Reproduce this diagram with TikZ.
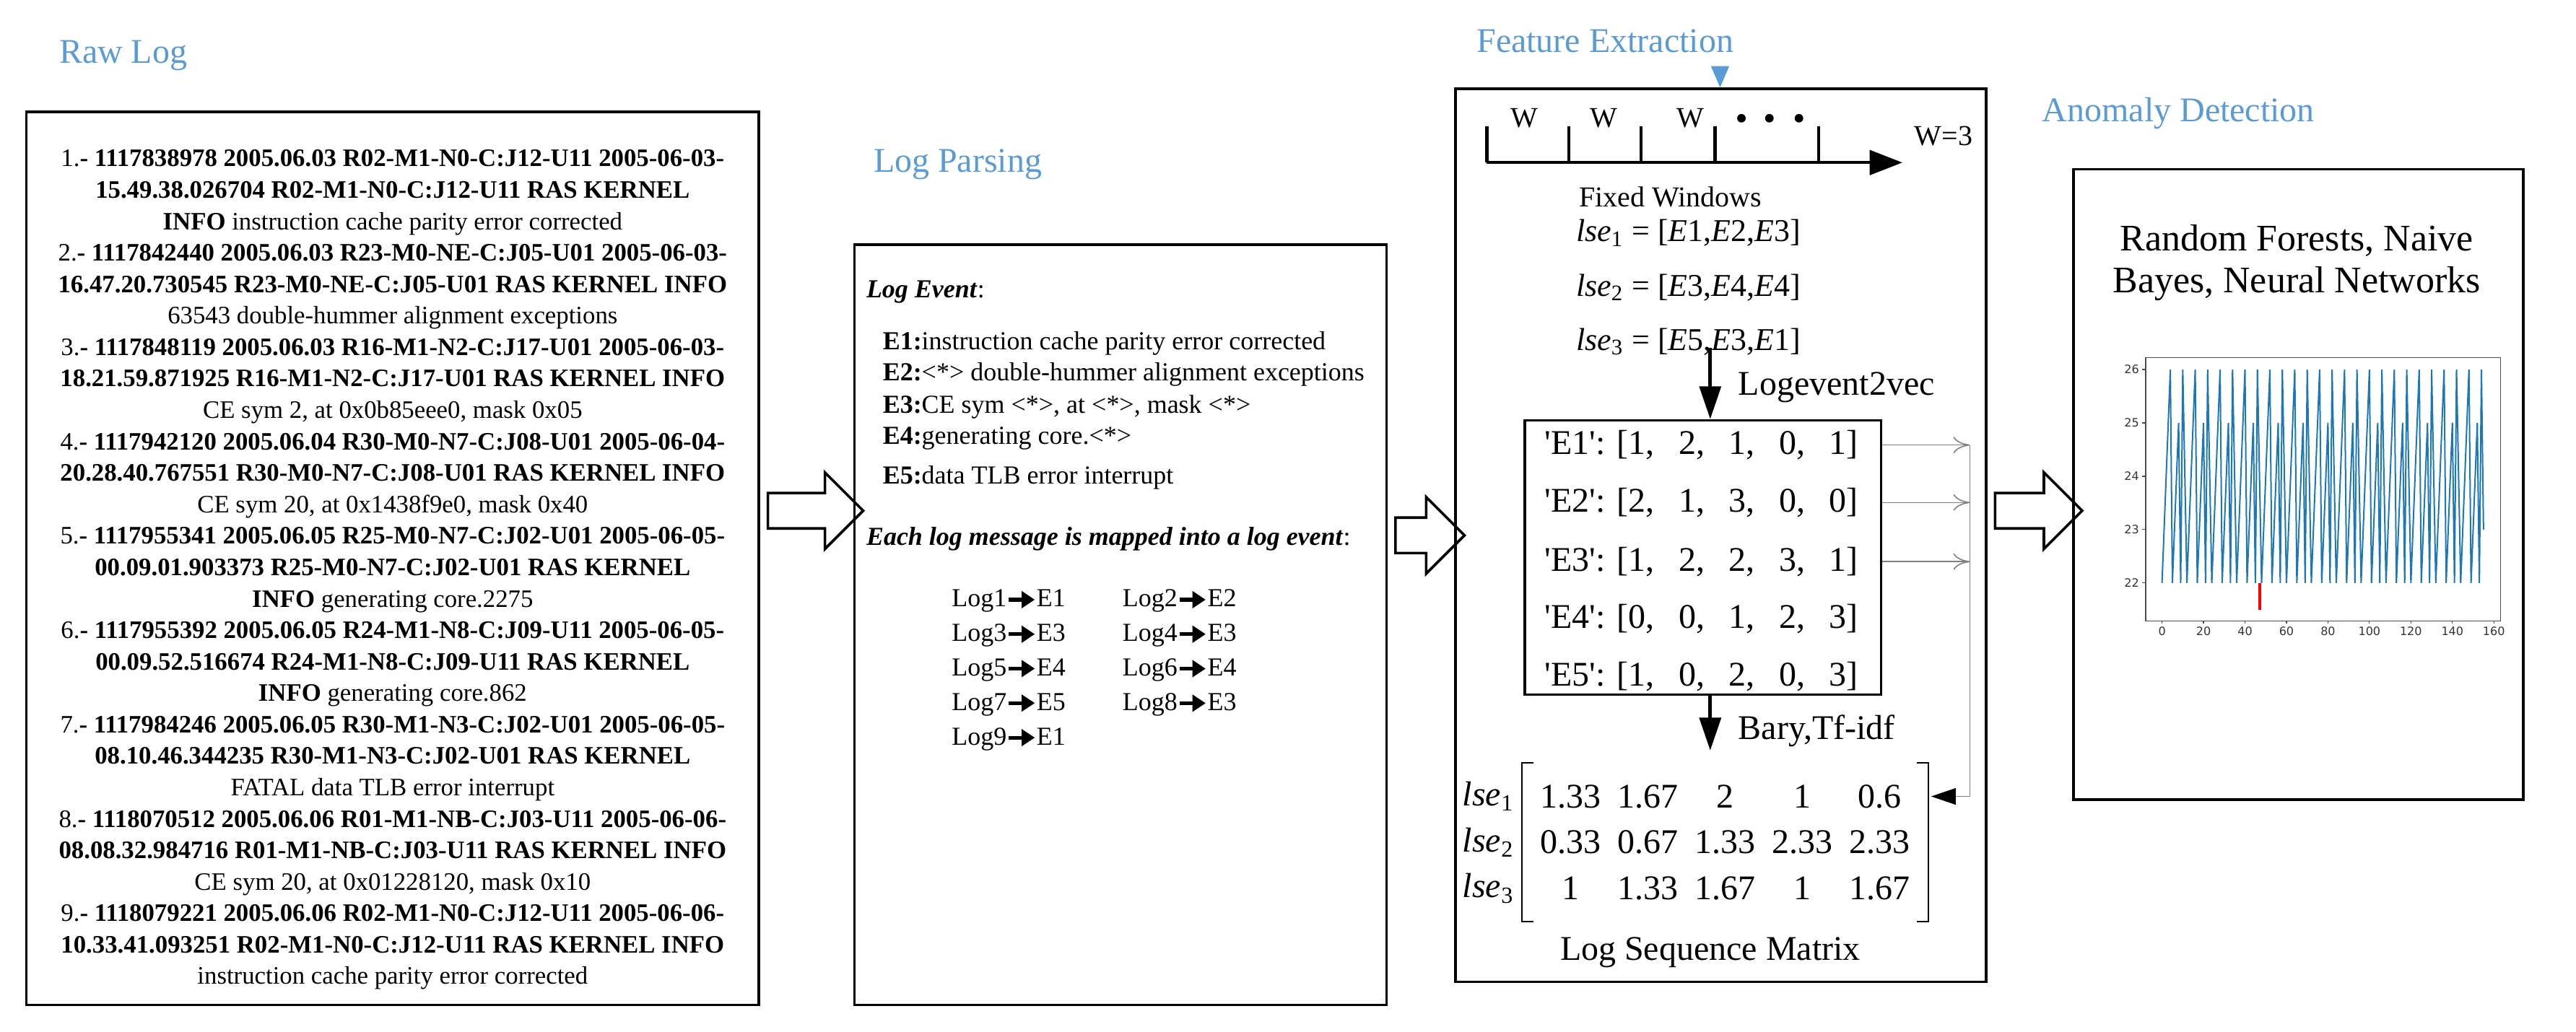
\documentclass[tikz,border=0pt]{standalone}
\usepackage{fontspec}
\setmainfont{Liberation Serif}
\setsansfont{DejaVu Sans}
\usetikzlibrary{arrows.meta,shapes.arrows,matrix}
\definecolor{stageblue}{RGB}{91,155,213}
\definecolor{mplblue}{RGB}{31,119,180}
\tikzset{
  box/.style={draw, line width=0.9pt, inner sep=0pt},
  stage/.style={text=stageblue, font=\fontsize{12}{14}\selectfont},
  blockarrow/.style={single arrow, draw, line width=0.9pt, inner xsep=0pt, inner ysep=0.2cm,
    minimum width=0.9cm, single arrow head extend=0.25cm},
  thickarrow/.style={line width=1.2pt, -{Triangle[length=0.4cm,width=0.26cm]}},
  thinarrow/.style={gray, line width=0.4pt, -{To[length=0.2cm,width=0.2cm]}},
  tick/.style={font=\sffamily\fontsize{4}{4}\selectfont, inner sep=1pt, text=black!80},
}
\newcommand{\logentry}[4]{#1\textbf{- #2}\\ \textbf{#3}\\ #4\\}
\newcommand{\maparrow}{\tikz[baseline=-0.6ex]\draw[line width=1.3pt, -{Triangle[length=1.6mm,width=2mm]}] (0,0) -- (3.2mm,0);}
\newcommand{\evname}[1]{\textquotesingle E#1\textquotesingle}

\begin{document}
\begin{tikzpicture}[x=0.02cm, y=-0.02cm]
    \useasboundingbox (0,0) rectangle (1568,628);

    % Stage titles
    \node[stage] (tRaw) at (75,34) {Raw Log};
    \node[stage] (tParse) at (583,100) {Log Parsing};
    \node[stage] (tFeat) at (977,25) {Feature Extraction};
    \node[stage] (tAnom) at (1326,69) {Anomaly Detection};

    % Boxes
    \node[box, minimum width=8.92cm, minimum height=10.88cm] (raw) at (239,340) {};
    \node[box, minimum width=6.48cm, minimum height=9.26cm] (parse) at (682,380.5) {};
    \node[box, minimum width=6.46cm, minimum height=10.88cm] (feat) at (1047.5,326) {};
    \node[box, minimum width=5.48cm, minimum height=7.68cm] (anom) at (1399,295) {};

    % Hollow arrows between stages
    \node[blockarrow, minimum height=1.16cm] (a1) at (491,311) {};
    \node[blockarrow, minimum height=0.84cm] (a2) at (865,326) {};
    \node[blockarrow, minimum height=1.06cm] (a3) at (1235.5,311) {};

    % Raw log messages
    \node[font=\fontsize{8.7}{10.9}\selectfont, align=center] (rawtext) at (239,347) {
        \logentry{1.}{1117838978 2005.06.03 R02-M1-N0-C:J12-U11 2005-06-03-}{15.49.38.026704 R02-M1-N0-C:J12-U11 RAS KERNEL}{\textbf{INFO} instruction cache parity error corrected}
        \logentry{2.}{1117842440 2005.06.03 R23-M0-NE-C:J05-U01 2005-06-03-}{16.47.20.730545 R23-M0-NE-C:J05-U01 RAS KERNEL INFO}{63543 double-hummer alignment exceptions}
        \logentry{3.}{1117848119 2005.06.03 R16-M1-N2-C:J17-U01 2005-06-03-}{18.21.59.871925 R16-M1-N2-C:J17-U01 RAS KERNEL INFO}{CE sym 2, at 0x0b85eee0, mask 0x05}
        \logentry{4.}{1117942120 2005.06.04 R30-M0-N7-C:J08-U01 2005-06-04-}{20.28.40.767551 R30-M0-N7-C:J08-U01 RAS KERNEL INFO}{CE sym 20, at 0x1438f9e0, mask 0x40}
        \logentry{5.}{1117955341 2005.06.05 R25-M0-N7-C:J02-U01 2005-06-05-}{00.09.01.903373 R25-M0-N7-C:J02-U01 RAS KERNEL}{\textbf{INFO} generating core.2275}
        \logentry{6.}{1117955392 2005.06.05 R24-M1-N8-C:J09-U11 2005-06-05-}{00.09.52.516674 R24-M1-N8-C:J09-U11 RAS KERNEL}{\textbf{INFO} generating core.862}
        \logentry{7.}{1117984246 2005.06.05 R30-M1-N3-C:J02-U01 2005-06-05-}{08.10.46.344235 R30-M1-N3-C:J02-U01 RAS KERNEL}{FATAL data TLB error interrupt}
        \logentry{8.}{1118070512 2005.06.06 R01-M1-NB-C:J03-U11 2005-06-06-}{08.08.32.984716 R01-M1-NB-C:J03-U11 RAS KERNEL INFO}{CE sym 20, at 0x01228120, mask 0x10}
        9.\textbf{- 1118079221 2005.06.06 R02-M1-N0-C:J12-U11 2005-06-06-}\\
        \textbf{10.33.41.093251 R02-M1-N0-C:J12-U11 RAS KERNEL INFO}\\
        instruction cache parity error corrected};

    % Log parsing
    \begin{scope}[every node/.style={anchor=west, inner sep=0pt, font=\fontsize{9}{11}\selectfont}]
        \node (evhead) at (527,178) {\textbf{\textit{Log Event}}:};
        \node (ev1) at (537,209) {\textbf{E1:}instruction cache parity error corrected};
        \node (ev2) at (537,228) {\textbf{E2:}\textless*\textgreater{} double-hummer alignment exceptions};
        \node (ev3) at (537,248) {\textbf{E3:}CE sym \textless*\textgreater, at \textless*\textgreater, mask \textless*\textgreater};
        \node (ev4) at (537,267) {\textbf{E4:}generating core.\textless*\textgreater};
        \node (ev5) at (537,291) {\textbf{E5:}data TLB error interrupt};
        \node (maphead) at (527,328) {\textbf{\textit{Each log message is mapped into a log event}}:};
        \foreach \l/\e/\x/\y in {1/1/579/366, 2/2/683/366, 3/3/579/387, 4/3/683/387,
                                 5/4/579/408, 6/4/683/408, 7/5/579/429, 8/3/683/429, 9/1/579/450}
            \node (map\l) at (\x,\y) {Log\l\maparrow E\e};
    \end{scope}

    % Feature extraction: fixed windows
    \coordinate (fehead) at (1047,41);
    \draw[stageblue, -{Triangle[length=0.26cm,width=0.22cm]}] (fehead) -- (fehead |- feat.north);
    \draw[line width=1.1pt, -{Triangle[length=0.4cm,width=0.3cm]}] (905,99) -- (1158,99);
    \foreach \x in {905,955,999,1044,1107}
        \draw[line width=1.1pt] (\x,99) -- (\x,77);
    \foreach \x in {928,976,1029}
        \node[font=\fontsize{10}{10}\selectfont] at (\x,72) {W};
    \foreach \x in {1060,1077,1095}
        \fill (\x,72) circle (2.6);
    \node[font=\fontsize{10}{10}\selectfont] (wsize) at (1183,83) {W=3};
    \node[anchor=west, inner sep=0pt, font=\fontsize{10}{10}\selectfont] (fixed) at (961,120) {Fixed Windows};
    \begin{scope}[every node/.style={anchor=west, inner sep=0pt, font=\fontsize{11}{11}\selectfont}]
        \node (lse1) at (959,142) {\textit{lse}\textsubscript{1} = [\textit{E}1,\textit{E}2,\textit{E}3]};
        \node (lse2) at (959,175) {\textit{lse}\textsubscript{2} = [\textit{E}3,\textit{E}4,\textit{E}4]};
        \node (lse3) at (959,208) {\textit{lse}\textsubscript{3} = [\textit{E}5,\textit{E}3,\textit{E}1]};
    \end{scope}

    % Logevent2vec
    \node[box, minimum width=4.34cm, minimum height=3.34cm] (vec) at (1036.5,339.5) {};
    \coordinate (down1) at (1041,212);
    \draw[thickarrow] (down1) -- (down1 |- vec.north);
    \node[anchor=west, font=\fontsize{12}{12}\selectfont] (l2v) at (1052,236) {Logevent2vec};
    \begin{scope}[every node/.style={anchor=west, inner sep=0pt, font=\fontsize{12}{12}\selectfont}]
        \node (e1) at (940,271) {\evname{1}: [1,\hspace{0.7em}2,\hspace{0.7em}1,\hspace{0.7em}0,\hspace{0.7em}1]};
        \node (e2) at (940,306) {\evname{2}: [2,\hspace{0.7em}1,\hspace{0.7em}3,\hspace{0.7em}0,\hspace{0.7em}0]};
        \node (e3) at (940,342) {\evname{3}: [1,\hspace{0.7em}2,\hspace{0.7em}2,\hspace{0.7em}3,\hspace{0.7em}1]};
        \node (e4) at (940,377) {\evname{4}: [0,\hspace{0.7em}0,\hspace{0.7em}1,\hspace{0.7em}2,\hspace{0.7em}3]};
        \node (e5) at (940,412) {\evname{5}: [1,\hspace{0.7em}0,\hspace{0.7em}2,\hspace{0.7em}0,\hspace{0.7em}3]};
    \end{scope}

    % Log sequence matrix
    \coordinate (down2) at (1041,457);
    \draw[thickarrow] (vec.south -| down1) -- (down2);
    \node[anchor=west, font=\fontsize{12}{12}\selectfont] (bary) at (1052,445) {Bary,Tf-idf};
    \matrix (lsm) [matrix of nodes,
        nodes={minimum width=0.94cm, minimum height=0.56cm, inner sep=0pt, font=\fontsize{12}{12}\selectfont}]
        at (1050,513) {
        1.33 & 1.67 & 2    & 1    & 0.6  \\
        0.33 & 0.67 & 1.33 & 2.33 & 2.33 \\
        1    & 1.33 & 1.67 & 1    & 1.67 \\
    };
    \draw[line width=0.5pt] ([xshift=4]lsm.north west) -- (lsm.north west) -- (lsm.south west) -- ([xshift=4]lsm.south west);
    \draw[line width=0.5pt] ([xshift=-4]lsm.north east) -- (lsm.north east) -- (lsm.south east) -- ([xshift=-4]lsm.south east);
    \foreach \i in {1,2,3}
        \node[anchor=east, inner sep=0pt, font=\fontsize{12}{12}\selectfont] (row\i) at (922,0 |- lsm-\i-1) {\textit{lse}\textsubscript{\i}};
    \node[font=\fontsize{12}{12}\selectfont] (lsmname) at (1041,580) {Log Sequence Matrix};

    % Side connection to the matrix
    \coordinate (bus) at (1199,0 |- lsm-1-5);
    \foreach \r in {e1,e2,e3}
        \draw[thinarrow] (vec.east |- \r) -- (bus |- \r);
    \draw[gray, line width=0.4pt] (bus |- e1) -- (bus);
    \draw[gray, line width=0.4pt, -{Triangle[length=0.3cm,width=0.2cm,color=black]}] (bus) -- ([xshift=1]lsm.east |- bus);

    % Anomaly detection
    \node[align=center, font=\fontsize{13}{14.5}\selectfont] (models) at (1398,160) {Random Forests, Naive\\Bayes, Neural Networks};
    \begin{scope}[shift={(1316,355)}, x=0.02525cm, y=0.65cm]
        \draw[black!70, line width=0.3pt] (-7.9,-0.71) rectangle (163.2,4.22);
        \foreach \v in {22,...,26}
            \draw[black!70, line width=0.3pt] (-7.9,\v-22) -- ++(-1.6,0) node[tick, left] {\v};
        \foreach \t in {0,20,...,160}
            \draw[black!70, line width=0.3pt] (\t,-0.71) -- ++(0,-0.05) node[tick, below] {\t};
        \draw[mplblue, line width=0.5pt] (0,0)
            \foreach \c in {0,12,...,132} { -- (\c+4,4) -- (\c+5,0) -- (\c+8,3) -- (\c+9,0) -- (\c+10,4) -- (\c+12,0) }
            -- (148,4) -- (149,0) -- (152,3) -- (153,0) -- (154,4) -- (155,1);
        \draw[red, line width=1pt] (47,0) -- (47,-0.5);
    \end{scope}

\end{tikzpicture}
\end{document}
